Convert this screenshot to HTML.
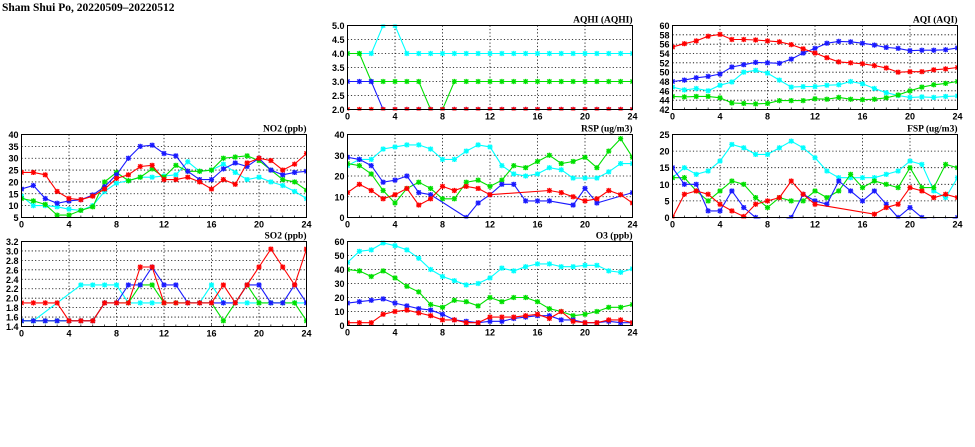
<!DOCTYPE html>
<html><head><meta charset="utf-8">
<style>
html,body{margin:0;padding:0;background:#fff;}
svg{display:block;font-family:"Liberation Sans",sans-serif;}
</style></head>
<body>
<svg id="chart" width="975" height="447" viewBox="0 0 975 447">
<text x="2" y="11" font-family="Liberation Serif,serif" font-size="11.5" font-weight="bold">Sham Shui Po, 20220509–20220512</text>
</svg>
<script>
// x categories (hours)
const hours = [0,1,2,3,4,5,6,7,8,9,10,11,12,13,14,15,16,17,18,19,20,21,22,23,24];
const xTicks = [0,4,8,12,16,20,24];

// AQHI
const aqhiRed   = [2,2,2,2,2,2,2,2,2,2,2,2,2,2,2,2,2,2,2,2,2,2,2,2,2];
const aqhiBlue  = [3,3,3,2,2,2,2,2,2,2,2,2,2,2,2,2,2,2,2,2,2,2,2,2,2];
const aqhiGreen = [4,4,3,3,3,3,3,2,2,3,3,3,3,3,3,3,3,3,3,3,3,3,3,3,3];
const aqhiCyan  = [4,4,4,5,5,4,4,4,4,4,4,4,4,4,4,4,4,4,4,4,4,4,4,4,4];
const aqhiTicks = ["2.0","2.5","3.0","3.5","4.0","4.5","5.0"];

// AQI
const aqiRed   = [55.4,56.1,56.7,57.7,58.1,57,57,56.9,56.7,56.5,55.9,55,54.1,53.1,52.2,52,51.8,51.4,50.9,50,50.1,50.1,50.5,50.7,51];
const aqiBlue  = [48,48.3,48.8,49.1,49.6,51.1,51.6,52.1,52,51.9,52.8,54.1,55.1,56.2,56.6,56.5,56.2,55.8,55.3,55.1,54.6,54.7,54.7,54.8,55.2];
const aqiCyan  = [46.8,46.2,46.5,46,47.2,47.9,50,50.4,49.8,48.3,46.8,46.9,46.9,47.2,47.3,48,47.5,46.5,45.6,45,44.6,44.7,44.6,44.8,44.9];
const aqiGreen = [44.8,44.7,44.8,44.8,44.5,43.4,43.3,43.2,43.3,43.9,43.9,43.9,44.3,44.2,44.6,44.2,44.1,44.2,44.5,45.1,46,46.8,47.3,47.6,48];
const aqiTicks = ["42","44","46","48","50","52","54","56","58","60"];

// NO2
const no2Red   = [24,24,23,16,13,12.5,14,17,21.5,23,26.5,27,21,21,22,20,17,21,19,28,30,29,25,27.5,32];
const no2Blue  = [17,18.5,13,11,12,12.5,14.5,18,23,30,35,35.5,32,31,24.5,21,21,25.5,28,26.5,30,25,23,24,24.5];
const no2Green = [13,12,10.5,6,6,8,9.5,20,24,20.5,22,25.5,22,27,24.5,24.5,25,30,30.5,31,29,25,21,20,16.5];
const no2Cyan  = [14,10,10,9.5,8.5,8,10,16,19.5,20.5,22,22,22.5,23,28.5,24.5,25,27.5,24,21,22,20,18.5,16,13];
const no2Ticks = ["5","10","15","20","25","30","35","40"];

// RSP
const rspCyan  = [25,28,28,33,34,35,35,33,28,28,32,35,34,25,21,20,21,24,23,19,19,19,22,26,26];
const rspGreen = [26,25,21,13,7,14,17,14,9,9,17,18,15,18,25,24,27,30,26,27,29,24,32,38,29];
const rspBlue  = [29,28,25,17,18,20,12,11,null,null,0,7,11,16,16,8,8,8,null,6,14,7,null,null,12];
const rspRed   = [12,16,13,9,11,14,6,9,15,13,15,14,11,null,null,null,null,13,12,10,8,9,13,11,7];
const rspTicks = ["0","10","20","30","40"];

// FSP
const fspCyan  = [12,15,13,14,17,22,21,19,19,21,23,21,18,14,12,12,12,12,13,14,17,16,8,6,12];
const fspGreen = [12,12,8,5,8,11,10,6,3,6,5,5,8,6,8,13,9,11,10,9,15,9,9,16,15];
const fspBlue  = [15,10,10,2,2,8,3,0,-1,-1,0,7,5,4,11,8,5,8,4,0,3,0,-1,-1,0];
const fspRed   = [0,7,8,7,4,2,0.3,4,5,6,11,7,4,null,null,null,null,1,3,4,9,8,6,7,6];
const fspTicks = ["0","5","10","15","20","25"];

// SO2
const so2Cyan  = [1.52,1.52,null,null,null,2.28,2.28,2.28,2.28,1.9,1.9,1.9,1.9,1.9,1.9,1.9,2.28,1.9,1.9,1.9,1.9,1.9,1.9,1.9,1.9];
const so2Green = [1.52,1.52,1.52,1.52,1.52,1.52,1.52,1.9,1.9,1.9,2.28,2.28,1.9,1.9,1.9,1.9,1.9,1.52,1.9,2.28,1.9,1.9,1.9,1.9,1.52];
const so2Blue  = [1.52,1.52,1.52,1.52,1.52,1.52,1.52,1.9,1.9,2.28,2.28,2.66,2.28,2.28,1.9,1.9,1.9,1.9,1.9,2.28,2.28,1.9,1.9,2.28,1.9];
const so2Red   = [1.9,1.9,1.9,1.9,1.52,1.52,1.52,1.9,1.9,1.9,2.66,2.66,1.9,1.9,1.9,1.9,1.9,2.28,1.9,2.28,2.66,3.04,2.66,2.28,3.04];
const so2Ticks = ["1.4","1.6","1.8","2.0","2.2","2.4","2.6","2.8","3.0","3.2"];

// O3
const o3Cyan  = [45,53,54,59,57,54,48,40,35,32,29,30,34,41,39,42,44,44,42,42,43,43,39,38,40.5];
const o3Green = [40,39,35,39,34,28,24,15,13,18,17,14,20,17,20,20,17,12,10,7,8,10,13,13,15];
const o3Blue  = [16,17,18,19,16,14,12,11,8,4,3,2,3,3,5,6,7,7,4,4,2,2,3,2,2];
const o3Red   = [2,2,2,8,10,11,9,7,4,4,2,2,6,6,6,7,8,5,10,3,2,2,4,4,2];
const o3Ticks = ["0","10","20","30","40","50","60"];

const NS = "http://www.w3.org/2000/svg";
const svg = document.getElementById('chart');
const COL = {red:"#ff0000", blue:"#1a1aff", green:"#00e000", cyan:"#00ffff"};
function mk(tag, attrs, parent){
  const e = document.createElementNS(NS, tag);
  for (const k in attrs) e.setAttribute(k, attrs[k]);
  (parent||svg).appendChild(e);
  return e;
}

function panel(id, title, x0, y0, w, h, ticks, series){
  const ymin = parseFloat(ticks[0]), ymax = parseFloat(ticks[ticks.length-1]);
  const xs = v => x0 + v/24*w;
  const ys = v => y0 + h - (v-ymin)/(ymax-ymin)*h;
  const g = mk('g', {});
  
  
  const clipId = 'clip-' + id;
  const cp = mk('clipPath', {id: clipId}, g);
  mk('rect', {x:x0, y:y0-1, width:w, height:h+2}, cp);
  // grid
  ticks.forEach(t => {
    const y = ys(parseFloat(t));
    const gl = mk('line', {x1:x0, x2:x0+w, y1:y, y2:y, stroke:"#000", 'stroke-width':0.8, 'stroke-dasharray':"1.2,2.2"}, g);
    
    
    const tl = mk('text', {x:x0-3, y:y+3.5, 'font-size':9, 'font-weight':'bold', 'text-anchor':'end'}, g);
    
    
    tl.textContent = t;
  });
  xTicks.forEach(t => {
    const x = xs(t);
    const gl = mk('line', {x1:x, x2:x, y1:y0, y2:y0+h, stroke:"#000", 'stroke-width':0.8, 'stroke-dasharray':"1.2,2.2"}, g);
    
    
    const tl = mk('text', {x:x, y:y0+h+10, 'font-size':9, 'font-weight':'bold', 'text-anchor':'middle'}, g);
    
    
    tl.textContent = t;
  });
  hours.forEach(t => {
    mk('line', {x1:xs(t), x2:xs(t), y1:y0+h, y2:y0+h-2, stroke:"#000", 'stroke-width':0.7}, g);
  });
  const ti = mk('text', {x:x0+w, y:y0-3, 'font-size':9.5, 'font-weight':'bold', 'text-anchor':'end', 'font-family':'Liberation Serif,serif'}, g);
  
  
  ti.textContent = title;
  // series
  const sg = mk('g', {'clip-path':'url(#'+clipId+')'}, g);
  series.forEach(([name, vals]) => {
    const c = COL[name];
    let d = '';
    vals.forEach((v,i) => { if (v===null) return; d += (d?'L':'M') + xs(hours[i]).toFixed(1) + ',' + ys(v).toFixed(1); });
    const p = mk('path', {d:d, fill:'none', stroke:c, 'stroke-width':1.1}, sg);
    
    
    vals.forEach((v,i) => {
      if (v===null) return;
      const x = xs(hours[i]), y = ys(v), r = 2.6;
      const m = mk('path', {d:`M${x-r},${y}H${x+r}M${x},${y-r}V${y+r}M${x-r*0.8},${y-r*0.8}L${x+r*0.8},${y+r*0.8}M${x-r*0.8},${y+r*0.8}L${x+r*0.8},${y-r*0.8}`, stroke:c, 'stroke-width':1.3, fill:'none'}, sg);
      
      
    });
  });
  const fr = mk('rect', {x:x0, y:y0, width:w, height:h, fill:'none', stroke:'#000', 'stroke-width':1}, g);
  
  
}

panel('aqhi', 'AQHI (AQHI)', 347.5, 25.5, 285, 84, aqhiTicks, [['cyan',aqhiCyan],['green',aqhiGreen],['blue',aqhiBlue],['red',aqhiRed]]);
panel('aqi', 'AQI (AQI)', 672.5, 25.5, 285, 84, aqiTicks, [['cyan',aqiCyan],['green',aqiGreen],['blue',aqiBlue],['red',aqiRed]]);
panel('no2', 'NO2 (ppb)', 21.5, 134.5, 285, 83, no2Ticks, [['cyan',no2Cyan],['green',no2Green],['blue',no2Blue],['red',no2Red]]);
panel('rsp', 'RSP (ug/m3)', 347.5, 134.5, 285, 83, rspTicks, [['cyan',rspCyan],['green',rspGreen],['blue',rspBlue],['red',rspRed]]);
panel('fsp', 'FSP (ug/m3)', 672.5, 134.5, 285, 83, fspTicks, [['cyan',fspCyan],['green',fspGreen],['blue',fspBlue],['red',fspRed]]);
panel('so2', 'SO2 (ppb)', 21.5, 241.5, 285, 85, so2Ticks, [['cyan',so2Cyan],['green',so2Green],['blue',so2Blue],['red',so2Red]]);
panel('o3', 'O3 (ppb)', 347.5, 241.5, 285, 84, o3Ticks, [['cyan',o3Cyan],['green',o3Green],['blue',o3Blue],['red',o3Red]]);
</script>
</body></html>
